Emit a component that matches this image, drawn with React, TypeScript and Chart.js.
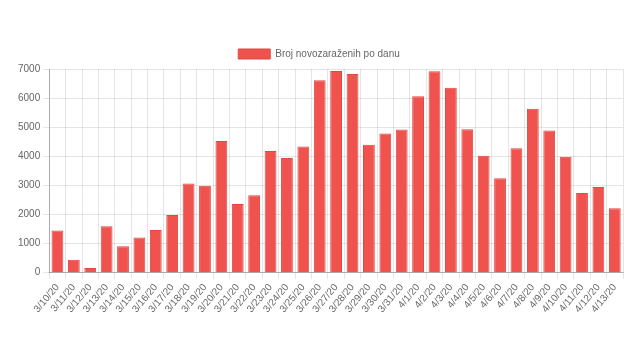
import React, { useEffect, useRef } from "react";
import { Chart, registerables } from "chart.js";

Chart.register(...registerables);

const categories = [
  "3/10/20", "3/11/20", "3/12/20", "3/13/20", "3/14/20", "3/15/20", "3/16/20",
  "3/17/20", "3/18/20", "3/19/20", "3/20/20", "3/21/20", "3/22/20", "3/23/20",
  "3/24/20", "3/25/20", "3/26/20", "3/27/20", "3/28/20", "3/29/20", "3/30/20",
  "3/31/20", "4/1/20", "4/2/20", "4/3/20", "4/4/20", "4/5/20", "4/6/20",
  "4/7/20", "4/8/20", "4/9/20", "4/10/20", "4/11/20", "4/12/20", "4/13/20",
];

const newCases = [
  1450, 445, 160, 1600, 910, 1210, 1470, 1985, 3070, 2990, 4530, 2360, 2660,
  4180, 3940, 4335, 6610, 6930, 6830, 4395, 4780, 4920, 6060, 6920, 6360,
  4930, 4020, 3250, 4280, 5630, 4885, 3985, 2740, 2945, 2215,
];

const seriesLabel = "Broj novozaraženih po danu";
const yMax = 7000;
const yStep = 1000;

const FONT = "'Liberation Sans', Arial, sans-serif";

export default function App() {
  const ref = useRef<HTMLCanvasElement | null>(null);

  useEffect(() => {
    if (!ref.current) return;
    const chart = new Chart(ref.current, {
      type: "bar",
      data: {
        labels: categories,
        datasets: [
          {
            label: seriesLabel,
            data: newCases,
            backgroundColor: "#F0524D",
            borderColor: "#E04843",
            borderWidth: 1,
            barPercentage: 0.9,
            categoryPercentage: 0.8,
          },
        ],
      },
      options: {
        animation: false,
        responsive: true,
        maintainAspectRatio: false,
        layout: { padding: { top: 31, right: 7, left: 7, bottom: 0 } },
        plugins: {
          legend: {
            position: "top",
            labels: {
              boxWidth: 32,
              boxHeight: 10,
              color: "#666",
              font: { family: FONT, size: 10 },
            },
          },
          tooltip: { enabled: false },
        },
        scales: {
          x: {
            grid: { color: "rgba(0,0,0,0.1)", offset: true, tickLength: 6 },
            border: { color: "rgba(0,0,0,0.25)" },
            ticks: {
              color: "#666",
              minRotation: 50,
              maxRotation: 50,
              autoSkip: false,
              font: { family: FONT, size: 10 },
            },
          },
          y: {
            min: 0,
            max: yMax,
            grid: { color: "rgba(0,0,0,0.1)", tickLength: 6 },
            border: { color: "rgba(0,0,0,0.25)" },
            ticks: {
              stepSize: yStep,
              color: "#666",
              font: { family: FONT, size: 10 },
              callback: (v: any) => String(v),
            },
          },
        },
      },
    });
    return () => chart.destroy();
  }, []);

  return (
    <div style={{ width: 622, height: 310, position: "relative" }}>
      <canvas ref={ref} />
    </div>
  );
}
